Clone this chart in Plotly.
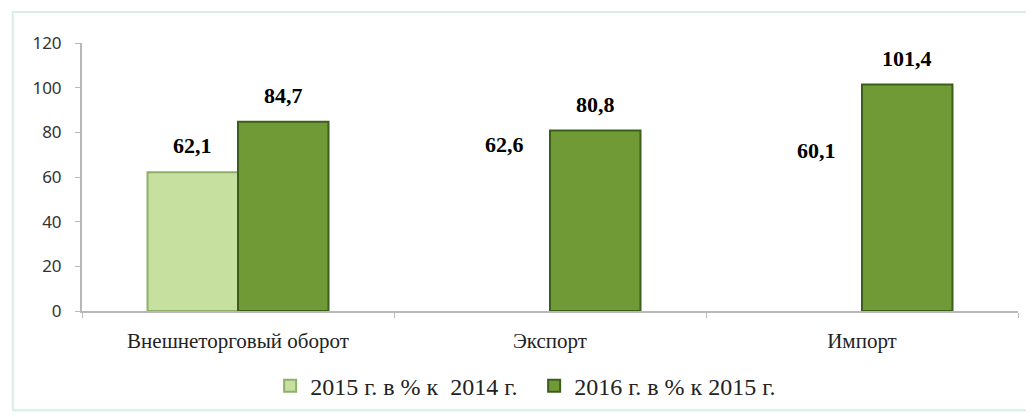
import plotly.graph_objects as go

# данные
categories = ["Внешнеторговый оборот", "Экспорт", "Импорт"]
series_2015 = [62.1, 62.6, 60.1]
series_2016 = [84.7, 80.8, 101.4]
name_2015 = "2015 г. в % к  2014 г."
name_2016 = "2016 г. в % к 2015 г."

serif = "Liberation Serif, Times New Roman, serif"
bargap = 0.42

fig = go.Figure()

# 2015: на рисунке видна только первая колонка, остальные белые
fig.add_trace(go.Bar(
    x=categories, y=series_2015, name=name_2015,
    marker=dict(color=["#c6e0a0", "rgba(255,255,255,0)", "rgba(255,255,255,0)"],
                line=dict(color=["#8fae6a", "rgba(255,255,255,0)", "rgba(255,255,255,0)"], width=2)),
))

fig.add_trace(go.Bar(
    x=categories, y=series_2016, name=name_2016,
    marker=dict(color="#6f9a36", line=dict(color="#3d5e1a", width=2)),
))

# подписи значений (чуть выше столбцов, как в оригинале)
plot_w = 1026 - 74 - 16
half_bar = (1 - bargap) * plot_w / len(categories) / 4
for vals, sign in [(series_2015, -1), (series_2016, 1)]:
    for cat, v in zip(categories, vals):
        fig.add_annotation(x=cat, y=v, text=f"{v:.1f}".replace(".", ","),
                           showarrow=False, xshift=sign * half_bar, yshift=12,
                           yanchor="bottom",
                           font=dict(family=serif, size=22, color="black", weight="bold"))

# рамка вокруг диаграммы
fig.add_shape(type="rect", xref="paper", yref="paper",
              x0=-0.074, x1=1.03, y0=-0.37, y1=1.116,
              line=dict(color="#d6eee8", width=2), layer="below")

# страница добавляет отступ 8px, поэтому размеры чуть меньше окна
fig.update_layout(
    width=1026, height=409,
    margin=dict(l=74, r=16, t=35, b=106, autoexpand=False),
    paper_bgcolor="white", plot_bgcolor="white",
    barmode="group", bargap=bargap, bargroupgap=0,
    showlegend=True,
    legend=dict(orientation="h", x=0.201, xanchor="left", y=-0.28, yanchor="middle",
                font=dict(family=serif, size=24, color="#222"),
                itemwidth=30, entrywidth=219),
    xaxis=dict(showline=True, linecolor="#b8b8b8", linewidth=2, automargin=False,
               ticks="outside", tickcolor="#b8b8b8", ticklen=5, tickson="boundaries",
               ticklabelstandoff=10,
               tickfont=dict(family=serif, size=21, color="#222"), showgrid=False),
    yaxis=dict(range=[0, 120], dtick=20, showline=True, linecolor="#b8b8b8", linewidth=2,
               automargin=False,
               ticks="outside", tickcolor="#b8b8b8", ticklen=5, showgrid=False, zeroline=False,
               ticklabelstandoff=10,
               tickfont=dict(family="Noto Sans, Arial, sans-serif", size=17, color="#333")),
)

fig.write_html("out.html")
